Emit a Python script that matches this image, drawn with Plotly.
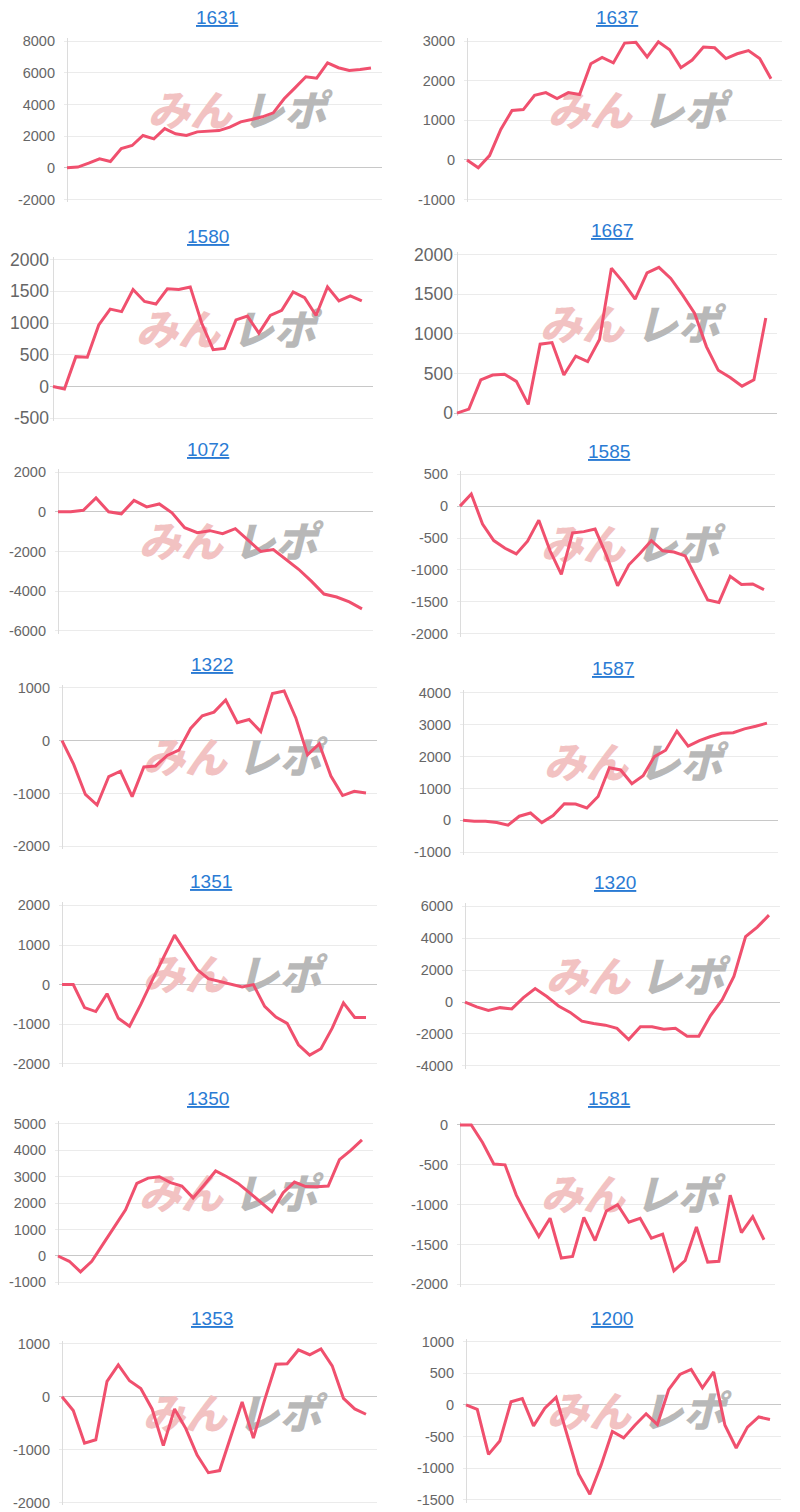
import plotly.graph_objects as go

W, H = 800, 1512

titles = ["1631", "1637", "1580", "1667", "1072", "1585", "1322",
          "1587", "1351", "1320", "1350", "1581", "1353", "1200"]

s1631 = [0, 50, 300, 570, 400, 1220, 1410, 2040, 1830, 2480, 2150, 2040, 2270, 2300,
         2350, 2570, 2900, 3050, 3220, 3470, 4360, 5050, 5750, 5660, 6630, 6320, 6150, 6200, 6300]
s1637 = [0, -200, 110, 770, 1250, 1270, 1630, 1700, 1550, 1700, 1650, 2430, 2590, 2450,
         2950, 2970, 2600, 2980, 2780, 2330, 2520, 2850, 2830, 2560, 2680, 2760, 2560, 2050]
s1580 = [0, -40, 470, 460, 970, 1220, 1180, 1530, 1340, 1300, 1540, 1530, 1570, 1000,
         580, 600, 1050, 1110, 840, 1120, 1200, 1490, 1400, 1120, 1570, 1350, 1430, 1350]
s1667 = [0, 50, 420, 480, 490, 400, 110, 870, 890, 480, 720, 650, 930, 1830,
         1650, 1440, 1770, 1840, 1700, 1490, 1260, 840, 540, 450, 340, 420, 1200]
s1072 = [0, 0, 80, 700, 0, -100, 580, 250, 400, -50, -800, -1050, -950, -1100,
         -850, -1450, -2000, -1900, -2400, -2900, -3500, -4150, -4300, -4550, -4900]
s1585 = [0, 190, -280, -540, -660, -750, -550, -220, -700, -1070, -420, -400, -360, -770,
         -1250, -920, -740, -540, -700, -720, -780, -1130, -1470, -1510, -1100, -1230, -1220, -1310]
s1322 = [0, -450, -1020, -1220, -680, -580, -1060, -500, -480, -280, -180, 230, 470, 540,
         770, 340, 400, 170, 890, 940, 430, -270, -60, -670, -1040, -960, -990]
s1587 = [0, -30, -30, -70, -150, 130, 230, -70, 150, 520, 510, 390, 750, 1650,
         1580, 1150, 1400, 2000, 2200, 2800, 2330, 2500, 2630, 2730, 2750, 2870, 2950, 3050]
s1351 = [0, 0, -580, -680, -230, -850, -1050, -500, 100, 680, 1250, 810, 380, 150,
         80, 0, -60, 0, -550, -820, -980, -1520, -1780, -1620, -1100, -460, -830, -830]
s1320 = [0, -300, -520, -350, -430, 280, 850, 350, -250, -650, -1200, -1350, -1450, -1650,
         -2350, -1550, -1550, -1700, -1650, -2150, -2150, -850, 150, 1600, 4100, 4700, 5450]
s1350 = [0, -200, -600, -200, 450, 1100, 1750, 2750, 2950, 3000, 2780, 2650, 2200, 2700,
         3220, 3000, 2750, 2400, 2050, 1680, 2400, 2800, 2630, 2620, 2650, 3650, 4000, 4400]
s1581 = [0, 0, -220, -490, -500, -880, -1150, -1400, -1170, -1670, -1650, -1160, -1450, -1080,
         -1000, -1220, -1170, -1420, -1370, -1830, -1700, -1280, -1720, -1710, -880, -1350, -1150, -1440]
s1353 = [0, -260, -875, -810, 290, 600, 300, 155, -230, -920, -230, -600, -1100, -1430,
         -1390, -750, -100, -780, -60, 610, 620, 880, 790, 900, 580, -30, -230, -330]
s1200 = [0, -70, -780, -570, 50, 100, -330, -50, 120, -480, -1090, -1410, -950, -420,
         -520, -320, -140, -310, 240, 480, 560, 270, 520, -320, -680, -350, -190, -230]

series = [s1631, s1637, s1580, s1667, s1072, s1585, s1322,
          s1587, s1351, s1320, s1350, s1581, s1353, s1200]

y_min = [-2000, -1000, -500, 0, -6000, -2000, -2000, -1000, -2000, -4000, -1000, -2000, -2000, -1500]
y_max = [8000, 3000, 2000, 2000, 2000, 500, 1000, 4000, 2000, 6000, 5000, 0, 1000, 1000]
y_step = [2000, 1000, 500, 500, 2000, 500, 1000, 1000, 1000, 2000, 1000, 500, 1000, 500]

# panel geometry (target pixels in the final picture)
px_x0 = [67, 467, 53, 457, 58, 460, 62, 463, 62, 465, 58, 460, 62, 466]
px_x1 = [382, 782, 373, 777, 373, 775, 377, 778, 377, 780, 373, 775, 377, 781]
px_top = [42, 42, 260, 255, 472, 474, 687, 692, 904, 905, 1122, 1123, 1341, 1339]
px_bot = [200, 200, 418, 413, 630, 633, 845, 851, 1062, 1064, 1280, 1282, 1500, 1497]
title_px_x = [217, 617, 208, 612, 208, 609, 212, 613, 211, 615, 208, 609, 212, 612]
title_px_y = [18, 18, 237, 231, 449, 451, 664, 668, 880, 881, 1097, 1097, 1316, 1316]
tick_size = [14.5, 14.5, 17.5, 17.5, 14.5, 14.5, 14.5, 14.5, 14.5, 14.5, 14.5, 14.5, 14.5, 14.5]
tick_standoff = [8, 8, 0, 0, 8, 8, 8, 8, 8, 8, 8, 8, 8, 8]

# the capture maps page y -> 8 + 0.9881*y ; invert so targets land correctly
Y_OFF, Y_SCALE = 8.0, 0.9881


def page_y(y):
    return (y - Y_OFF) / Y_SCALE


LINE = "#f0506e"
PAD = 3

fig = go.Figure()
layout = {}
annotations = []

for i, vals in enumerate(series):
    n = len(vals)
    xs = list(range(n))
    xmax = (n - 1) / 0.965
    x0, x1 = px_x0[i], px_x1[i]
    top, bot = page_y(px_top[i]), page_y(px_bot[i])
    pad_t = min(PAD, top)
    pad_b = min(PAD, H - bot)
    ux = xmax / (x1 - x0)
    ymin, ymax = y_min[i], y_max[i]
    uy = (ymax - ymin) / (bot - top)
    xa = "x" if i == 0 else f"x{i+1}"
    ya = "y" if i == 0 else f"y{i+1}"
    xk = "xaxis" if i == 0 else f"xaxis{i+1}"
    yk = "yaxis" if i == 0 else f"yaxis{i+1}"

    # watermark (below the line)
    wy = ymin + 0.53 * (ymax - ymin)
    fig.add_trace(go.Scatter(
        x=[xmax * 0.39, xmax * 0.69], y=[wy, wy], mode="text",
        text=["みん", "レポ"],
        textfont=dict(family="Noto Sans CJK JP", size=42,
                      color=["#f2c2c2", "#b8b8b8"], weight=900, style="italic"),
        hoverinfo="skip", showlegend=False, xaxis=xa, yaxis=ya))

    fig.add_trace(go.Scatter(
        x=xs, y=vals, mode="lines", line=dict(color=LINE, width=3),
        showlegend=False, xaxis=xa, yaxis=ya, name=titles[i]))

    tv = list(range(ymin, ymax + 1, y_step[i]))
    layout[xk] = dict(domain=[(x0 - PAD) / W, x1 / W], range=[-PAD * ux, xmax],
                      showgrid=False, zeroline=True, zerolinecolor="#dcdcdc",
                      zerolinewidth=1, showticklabels=False, ticks="",
                      anchor=ya, fixedrange=True)
    layout[yk] = dict(domain=[max(0.0, 1 - (bot + pad_b) / H), min(1.0, 1 - (top - pad_t) / H)],
                      range=[ymin - pad_b * uy, ymax + pad_t * uy],
                      tickvals=tv, ticktext=[str(v) for v in tv],
                      showgrid=True, gridcolor="#ebebeb", gridwidth=1,
                      zeroline=True, zerolinecolor="#c8c8c8", zerolinewidth=1,
                      ticks="", showline=False,
                      ticklabelstandoff=tick_standoff[i],
                      tickfont=dict(family="Liberation Sans, Arial, sans-serif",
                                    size=tick_size[i], color="#666666"),
                      anchor=xa, fixedrange=True)

    annotations.append(dict(
        text=f"<u>{titles[i]}</u>", xref="paper", yref="paper",
        x=title_px_x[i] / W, y=1 - page_y(title_px_y[i]) / H,
        xanchor="center", yanchor="middle", showarrow=False,
        font=dict(family="Liberation Sans, Arial, sans-serif", size=19, color="#2a7bd4")))

fig.update_layout(
    width=W, height=H, margin=dict(l=0, r=0, t=0, b=0),
    paper_bgcolor="white", plot_bgcolor="white",
    showlegend=False, annotations=annotations, **layout)

fig.write_html("out.html", config={"displayModeBar": False})
